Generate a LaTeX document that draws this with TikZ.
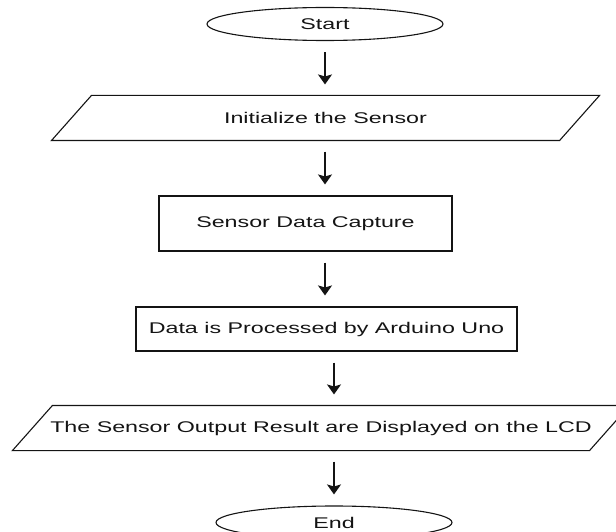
\documentclass[tikz,border=0pt]{standalone}
\usepackage{fontspec}
\setmainfont{Liberation Sans}[FakeStretch=1.5]
\usetikzlibrary{arrows.meta,shapes.geometric}
\definecolor{ink}{RGB}{20,20,20}
\tikzset{
  >={Stealth[length=10pt,width=14pt,inset=2pt]},
  base/.style={draw=ink,line width=1.1pt,inner sep=0pt,text=ink,
    font=\fontsize{15.5}{18}\selectfont},
  terminal/.style={base,ellipse,minimum width=236pt,minimum height=33pt},
  stepbox/.style={base,rectangle,minimum width=#1,minimum height=44pt},
  stepbox/.default=300pt,
  iobox/.style={base,draw=none,minimum width=#1,minimum height=44pt},
  iobox/.default=500pt,
  flow/.style={->,line width=1.2pt,draw=ink,shorten <=11pt,shorten >=11pt},
}
% slanted input/output outline round a named node
\newcommand\slant[1]{%
  \draw[ink,line width=1.1pt] ([xshift=-20pt]#1.south west) -- ([xshift=-20pt]#1.south east)
    -- ([xshift=20pt]#1.north east) -- ([xshift=20pt]#1.north west) -- cycle;}

\begin{document}
\begin{tikzpicture}[x=1pt,y=1pt]
  \useasboundingbox (0,0) rectangle (616,-532);
  \clip (0,0) rectangle (616,-532);
  \node[terminal] (start) at (325,-24) {Start};
  \node[iobox=507pt] (init) at (325.5,-118) {Initialize the Sensor};
  \slant{init}
  \node[stepbox=293pt,minimum height=55pt] (capture) at (305.5,-223.5) {Sensor Data Capture};
  \node[stepbox=381pt] (process) at (326.5,-329) {Data is Processed by Arduino Uno};
  \node[iobox=576pt] (display) at (321,-428) {The Sensor Output Result are Displayed on the LCD};
  \slant{display}
  \node[terminal] (stop) at (334,-522.5) {End};
  % arrows
  \draw[flow] (start.south) -- (init.north -| start.south);
  \draw[flow] (init.south -| start) -- (capture.north -| start);
  \draw[flow] (capture.south -| start) -- (process.north -| start);
  \draw[flow] (process.south -| stop) -- (display.north -| stop);
  \draw[flow] (display.south -| stop) -- (stop.north);
\end{tikzpicture}
\end{document}
